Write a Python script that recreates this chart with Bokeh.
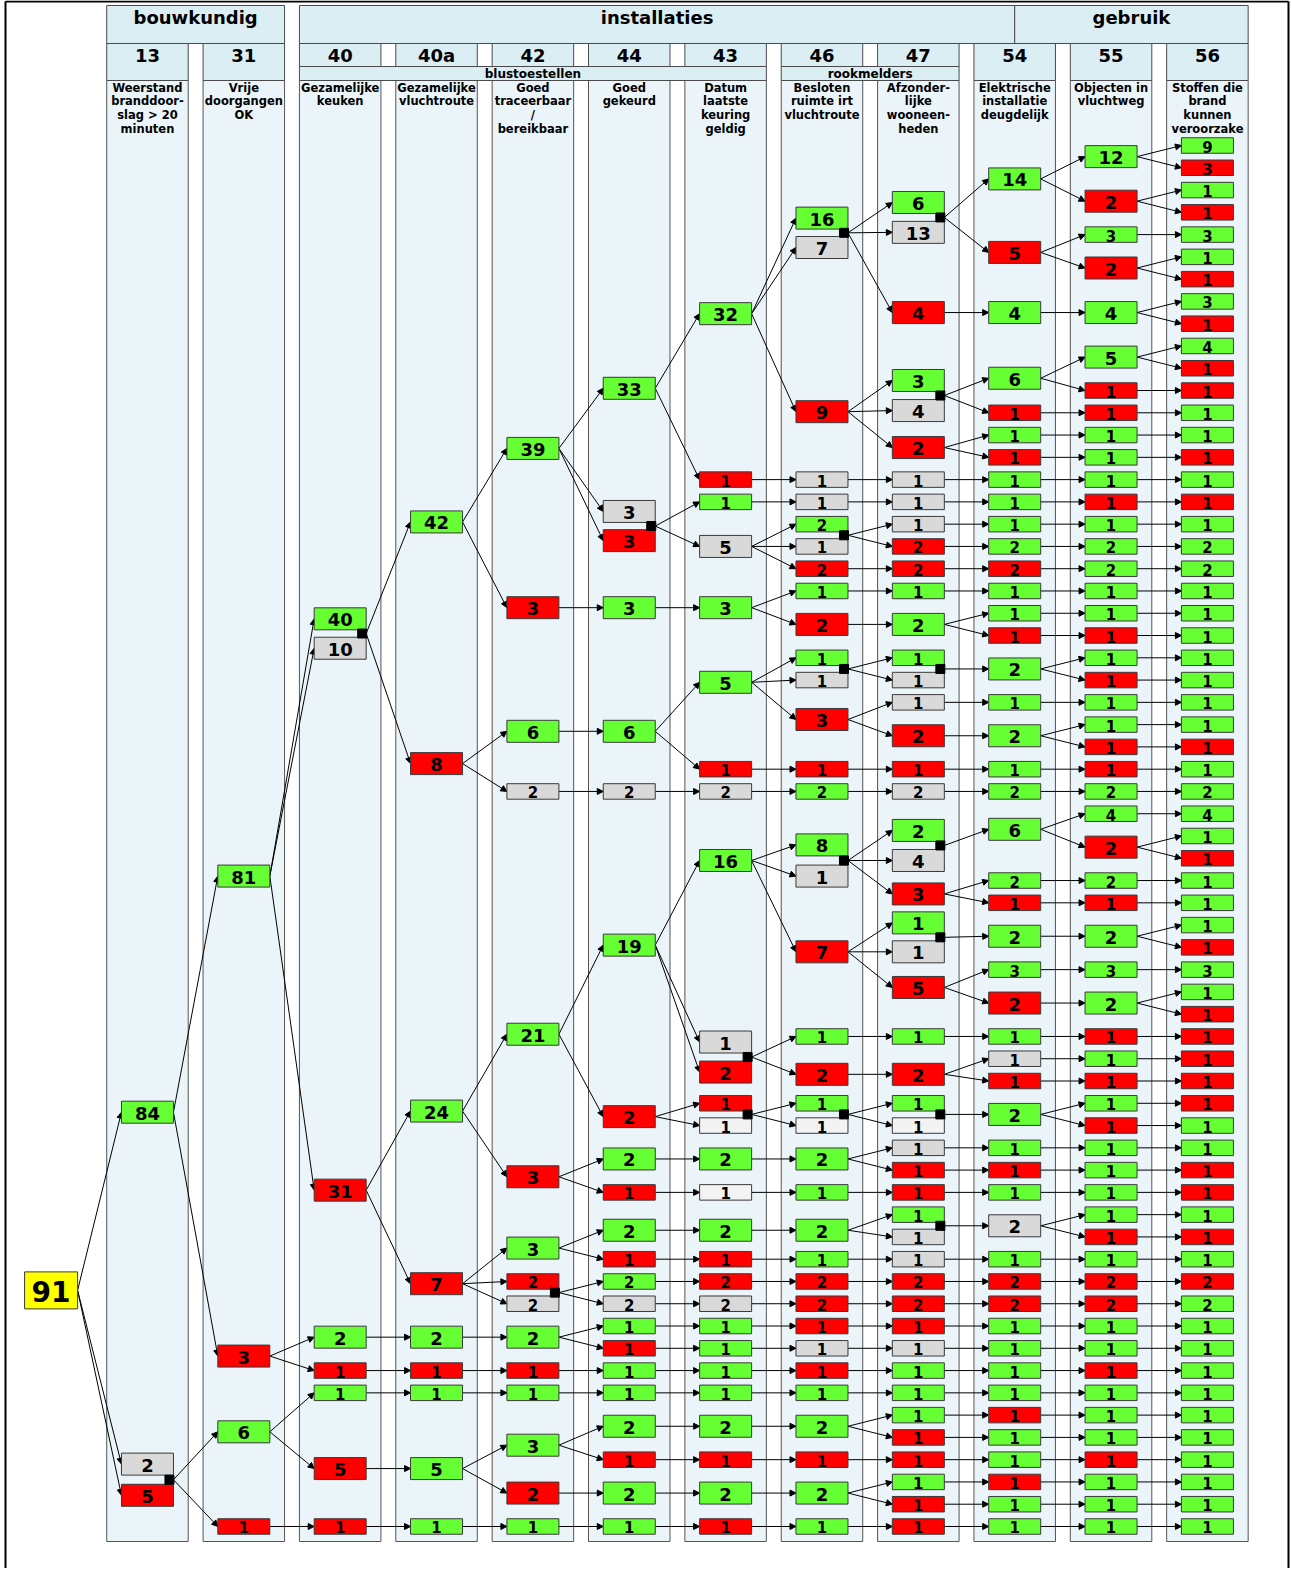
from bokeh.plotting import figure
from bokeh.models import Range1d, ColumnDataSource, Arrow, NormalHead
from bokeh.core.properties import value
from bokeh.embed import file_html
from bokeh.resources import INLINE

# ------------------------------------------------------------------ data
codes = ["", "13", "31", "40", "40a", "42", "44", "43", "46", "47", "54", "55", "56"]
descriptions = [
    [],
    ["Weerstand", "branddoor-", "slag > 20", "minuten"],
    ["Vrije", "doorgangen", "OK"],
    ["Gezamelijke", "keuken"],
    ["Gezamelijke", "vluchtroute"],
    ["Goed", "traceerbaar", "/", "bereikbaar"],
    ["Goed", "gekeurd"],
    ["Datum", "laatste", "keuring", "geldig"],
    ["Besloten", "ruimte irt", "vluchtroute"],
    ["Afzonder-", "lijke", "wooneen-", "heden"],
    ["Elektrische", "installatie", "deugdelijk"],
    ["Objecten in", "vluchtweg"],
    ["Stoffen die", "brand", "kunnen", "veroorzake"],
]
groups = ["bouwkundig", "installaties", "gebruik"]
subgroups = ["blustoestellen", "rookmelders"]

# node data per column: value, colour code (g=ja, r=nee, x=onbekend, w=n.v.t., y=totaal),
# row in the tree (leaf rows 0..62), parent index in previous column, stacked pairs (top index)
root_val = [91]
root_col = ["y"]
root_row = [51.4]

n13_val = [84, 2, 5]
n13_col = ["g", "x", "r"]
n13_row = [43.4, 59.2, 60.6]
n13_par = [0, 0, 0]
n13_pair = [1]

n31_val = [81, 3, 6, 1]
n31_col = ["g", "r", "g", "r"]
n31_row = [32.8, 54.35, 57.75, 62]
n31_par = [0, 0, 1, 1]
n31_pair = []

n40_val = [40, 10, 31, 2, 1, 1, 5, 1]
n40_col = ["g", "x", "r", "g", "r", "g", "r", "r"]
n40_row = [21.25, 22.57, 46.9, 53.5, 55, 56, 59.4, 62]
n40_par = [0, 0, 0, 1, 1, 2, 2, 3]
n40_pair = [0]

n40a_val = [42, 8, 24, 7, 2, 1, 1, 5, 1]
n40a_col = ["g", "r", "g", "r", "g", "r", "g", "g", "g"]
n40a_row = [16.9, 27.75, 43.35, 51.1, 53.5, 55, 56, 59.4, 62]
n40a_par = [0, 0, 2, 2, 3, 4, 5, 6, 7]
n40a_pair = []

n42_val = [39, 3, 6, 2, 21, 3, 3, 2, 2, 2, 1, 1, 3, 2, 1]
n42_col = ["g", "r", "g", "x", "g", "r", "g", "r", "x", "g", "r", "g", "g", "r", "g"]
n42_row = [13.6, 20.75, 26.3, 29, 39.9, 46.3, 49.5, 51, 52, 53.5, 55, 56, 58.35, 60.5, 62]
n42_par = [0, 0, 1, 1, 2, 2, 3, 3, 3, 4, 5, 6, 7, 7, 8]
n42_pair = [7]

n44_val = [33, 3, 3, 3, 6, 2, 19, 2, 2, 1, 2, 1, 2, 2, 1, 1, 1, 1, 2, 1, 2, 1]
n44_col = ["g", "x", "r", "g", "g", "x", "g", "r", "g", "r", "g", "r", "g", "x", "g", "r",
           "g", "g", "g", "r", "g", "g"]
n44_row = [10.9, 16.43, 17.74, 20.75, 26.3, 29, 35.9, 43.6, 45.5, 47, 48.7, 50, 51, 52, 53, 54,
           55, 56, 57.5, 59, 60.5, 62]
n44_par = [0, 0, 0, 1, 2, 3, 4, 4, 5, 5, 6, 6, 7, 7, 9, 9, 10, 11, 12, 12, 13, 14]
n44_pair = [1]

n43_val = [32, 1, 1, 5, 3, 5, 1, 2, 16, 1, 2, 1, 1, 2, 1, 2, 1, 2, 2, 1, 1, 1, 1, 2, 1, 2, 1]
n43_col = ["g", "r", "g", "x", "g", "g", "r", "x", "g", "x", "r", "r", "w", "g", "w", "g",
           "r", "r", "x", "g", "g", "g", "g", "g", "r", "g", "r"]
n43_row = [7.55, 15, 16, 18, 20.75, 24.1, 28, 29, 32.1, 40.25, 41.6, 43, 44, 45.5, 47, 48.7,
           50, 51, 52, 53, 54, 55, 56, 57.5, 59, 60.5, 62]
n43_par = [0, 0, 1, 1, 3, 4, 4, 5, 6, 6, 6, 7, 7, 8, 9, 10, 11, 12, 13, 14, 15, 16, 17, 18,
           19, 20, 21]
n43_pair = [9, 11]

n46_val = [16, 7, 9, 1, 1, 2, 1, 2, 1, 2, 1, 1, 3, 1, 2, 8, 1, 7, 1, 2, 1, 1, 2, 1, 2, 1, 2,
           2, 1, 1, 1, 1, 2, 1, 2, 1]
n46_col = ["g", "x", "r", "x", "x", "g", "x", "r", "g", "r", "g", "x", "r", "r", "g", "g",
           "x", "r", "g", "r", "g", "w", "g", "g", "g", "g", "r", "r", "r", "x", "r", "g",
           "g", "r", "g", "g"]
n46_row = [3.26, 4.58, 11.95, 15, 16, 17, 18, 19, 20, 21.5, 23, 24, 25.77, 28, 29, 31.4, 32.8,
           36.2, 40, 41.7, 43, 44, 45.5, 47, 48.7, 50, 51, 52, 53, 54, 55, 56, 57.5, 59, 60.5, 62]
n46_par = [0, 0, 0, 1, 2, 3, 3, 3, 4, 4, 5, 5, 5, 6, 7, 8, 8, 8, 9, 9, 11, 11, 13, 14, 15, 16,
           17, 18, 19, 20, 21, 22, 23, 24, 25, 26]
n46_pair = [0, 5, 10, 15, 20]

n47_val = [6, 13, 4, 3, 4, 2, 1, 1, 1, 2, 2, 1, 2, 1, 1, 1, 2, 1, 2, 2, 4, 3, 1, 1, 5, 1, 2,
           1, 1, 1, 1, 1, 1, 1, 1, 2, 2, 1, 1, 1, 1, 1, 1, 1, 1, 1, 1]
n47_col = ["g", "x", "r", "g", "x", "r", "x", "x", "x", "r", "r", "g", "g", "g", "x", "x",
           "r", "r", "x", "g", "x", "r", "g", "x", "r", "g", "r", "g", "w", "x", "r", "r",
           "g", "x", "x", "r", "r", "r", "x", "g", "g", "g", "r", "r", "g", "r", "r"]
n47_row = [2.56, 3.9, 7.5, 10.55, 11.9, 13.56, 15, 16, 17, 18, 19, 20, 21.5, 23, 24, 25, 26.5,
           28, 29, 30.75, 32.1, 33.6, 34.9, 36.2, 37.8, 40, 41.7, 43, 44, 45, 46, 47, 48, 49,
           50, 51, 52, 53, 54, 55, 56, 57, 58, 59, 60, 61, 62]
n47_par = [0, 0, 0, 2, 2, 2, 3, 4, 5, 5, 7, 8, 9, 10, 10, 12, 12, 13, 14, 15, 15, 15, 17, 17,
           17, 18, 19, 20, 20, 22, 22, 23, 24, 24, 25, 26, 27, 28, 29, 30, 31, 32, 32, 33, 34,
           34, 35]
n47_pair = [0, 3, 13, 19, 22, 27, 32]

n54_val = [14, 5, 4, 6, 1, 1, 1, 1, 1, 1, 2, 2, 1, 1, 1, 2, 1, 2, 1, 2, 6, 2, 1, 2, 3, 2, 1,
           1, 1, 2, 1, 1, 1, 2, 1, 2, 2, 1, 1, 1, 1, 1, 1, 1, 1, 1, 1]
n54_col = ["g", "r", "g", "g", "r", "g", "r", "g", "g", "g", "g", "r", "g", "g", "r", "g",
           "g", "g", "g", "g", "g", "g", "r", "g", "g", "r", "g", "x", "r", "g", "g", "r",
           "g", "x", "g", "r", "r", "g", "g", "g", "g", "r", "g", "g", "r", "g", "g"]
n54_row = [1.5, 4.8, 7.5, 10.45, 12, 13, 14, 15, 16, 17, 18, 19, 20, 21, 22, 23.5, 25, 26.5,
           28, 29, 30.7, 33, 34, 35.5, 37, 38.5, 40, 41, 42, 43.5, 45, 46, 47, 48.5, 50, 51,
           52, 53, 54, 55, 56, 57, 58, 59, 60, 61, 62]
n54_par = [0, 0, 2, 3, 3, 5, 5, 6, 7, 8, 9, 10, 11, 12, 12, 13, 15, 16, 17, 18, 19, 21, 21,
           22, 24, 24, 25, 26, 26, 27, 29, 30, 31, 32, 34, 35, 36, 37, 38, 39, 40, 41, 42, 43,
           44, 45, 46]
n54_pair = []

n55_val = [12, 2, 3, 2, 4, 5, 1, 1, 1, 1, 1, 1, 1, 2, 2, 1, 1, 1, 1, 1, 1, 1, 1, 1, 2, 4, 2,
           2, 1, 2, 3, 2, 1, 1, 1, 1, 1, 1, 1, 1, 1, 1, 1, 2, 2, 1, 1, 1, 1, 1, 1, 1, 1, 1, 1]
n55_col = ["g", "r", "g", "r", "g", "g", "r", "r", "g", "g", "g", "r", "g", "g", "g", "g",
           "g", "r", "g", "r", "g", "g", "r", "r", "g", "g", "r", "g", "r", "g", "g", "g",
           "r", "g", "r", "g", "r", "g", "g", "g", "g", "r", "g", "r", "r", "g", "g", "r",
           "g", "g", "g", "r", "g", "g", "g"]
n55_row = [0.5, 2.5, 4, 5.5, 7.5, 9.5, 11, 12, 13, 14, 15, 16, 17, 18, 19, 20, 21, 22, 23, 24,
           25, 26, 27, 28, 29, 30, 31.5, 33, 34, 35.5, 37, 38.5, 40, 41, 42, 43, 44, 45, 46,
           47, 48, 49, 50, 51, 52, 53, 54, 55, 56, 57, 58, 59, 60, 61, 62]
n55_par = [0, 0, 1, 1, 2, 3, 3, 4, 5, 6, 7, 8, 9, 10, 11, 12, 13, 14, 15, 15, 16, 17, 17, 18,
           19, 20, 20, 21, 22, 23, 24, 25, 26, 27, 28, 29, 29, 30, 31, 32, 33, 33, 34, 35, 36,
           37, 38, 39, 40, 41, 42, 43, 44, 45, 46]
n55_pair = []

n56_val = [9, 3, 1, 1, 3, 1, 1, 3, 1, 4, 1, 1, 1, 1, 1, 1, 1, 1, 2, 2, 1, 1, 1, 1, 1, 1, 1, 1,
           1, 2, 4, 1, 1, 1, 1, 1, 1, 3, 1, 1, 1, 1, 1, 1, 1, 1, 1, 1, 1, 1, 1, 2, 2, 1, 1, 1,
           1, 1, 1, 1, 1, 1, 1]
n56_col = ["g", "r", "g", "r", "g", "g", "r", "g", "r", "g", "r", "r", "g", "g", "r", "g",
           "r", "g", "g", "g", "g", "g", "g", "g", "g", "g", "g", "r", "g", "g", "g", "g",
           "r", "g", "g", "g", "r", "g", "g", "r", "r", "r", "r", "r", "g", "g", "r", "r",
           "g", "r", "g", "r", "g", "g", "g", "g", "g", "g", "g", "g", "g", "g", "g"]
n56_row = [0, 1, 2, 3, 4, 5, 6, 7, 8, 9, 10, 11, 12, 13, 14, 15, 16, 17, 18, 19, 20, 21, 22,
           23, 24, 25, 26, 27, 28, 29, 30, 31, 32, 33, 34, 35, 36, 37, 38, 39, 40, 41, 42, 43,
           44, 45, 46, 47, 48, 49, 50, 51, 52, 53, 54, 55, 56, 57, 58, 59, 60, 61, 62]
n56_par = [0, 0, 1, 1, 2, 3, 3, 4, 4, 5, 5, 6, 7, 8, 9, 10, 11, 12, 13, 14, 15, 16, 17, 18,
           19, 20, 21, 22, 23, 24, 25, 26, 26, 27, 28, 29, 29, 30, 31, 31, 32, 33, 34, 35, 36,
           37, 38, 39, 40, 41, 42, 43, 44, 45, 46, 47, 48, 49, 50, 51, 52, 53, 54]
n56_pair = []

tree = [
    (root_val, root_col, root_row, [], []),
    (n13_val, n13_col, n13_row, n13_par, n13_pair),
    (n31_val, n31_col, n31_row, n31_par, n31_pair),
    (n40_val, n40_col, n40_row, n40_par, n40_pair),
    (n40a_val, n40a_col, n40a_row, n40a_par, n40a_pair),
    (n42_val, n42_col, n42_row, n42_par, n42_pair),
    (n44_val, n44_col, n44_row, n44_par, n44_pair),
    (n43_val, n43_col, n43_row, n43_par, n43_pair),
    (n46_val, n46_col, n46_row, n46_par, n46_pair),
    (n47_val, n47_col, n47_row, n47_par, n47_pair),
    (n54_val, n54_col, n54_row, n54_par, n54_pair),
    (n55_val, n55_col, n55_row, n55_par, n55_pair),
    (n56_val, n56_col, n56_row, n56_par, n56_pair),
]

# ------------------------------------------------------------------ style / layout
COLORS = {"g": "#66ff33", "r": "#ff0000", "x": "#d9d9d9", "w": "#f3f3f3", "y": "#ffff00"}
FONT = value("DejaVu Sans")
PX_COL, COL0 = 96.36, 50.6      # pixels per column step, page x of column 0
PX_ROW, ROW0 = 22.274, 145.0     # pixels per leaf row, page y of row 0
ORIG = 0                         # page offset of the plot frame
W, H = 1290, 1568


def fx(px):
    return (px - COL0) / PX_COL


def fy(py):
    return (py - ROW0) / PX_ROW


def dx(px):
    return px / PX_COL


def dy(py):
    return py / PX_ROW


p = figure(width=W, height=H, x_range=Range1d(fx(ORIG), fx(ORIG + W)),
           y_range=Range1d(fy(ORIG + H), fy(ORIG)), x_axis_type=None, y_axis_type=None,
           toolbar_location=None, output_backend="svg", min_border=0)
p.grid.visible = False
p.outline_line_color = None
p.background_fill_color = "white"

HP = dx(40.75)          # half panel width
cols_idx = list(range(1, 13))

# column panels
panel = p.quad(left=[j - HP for j in cols_idx], right=[j + HP for j in cols_idx],
               top=fy(80), bottom=fy(1541), fill_color="#eaf4f9",
               line_color="#555555", line_width=1)
panel.level = "image"

# group header row
g_left = [1 - HP, 3 - HP, 10]
g_right = [2 + HP, 10, 12 + HP]
p.quad(left=g_left, right=g_right, top=fy(5), bottom=fy(43),
       fill_color="#dbeef3", line_color="#4a4a4a", line_width=1)
p.text(x=[(a + b) / 2 for a, b in zip(g_left, g_right)], y=[fy(17)] * 3, text=groups,
       text_font=FONT, text_font_style="bold", text_font_size="18px",
       text_align="center", text_baseline="middle", text_color="black")

# column number boxes
num_bottom = [fy(66) if 3 <= j <= 9 else fy(80) for j in cols_idx]
p.quad(left=[j - HP for j in cols_idx], right=[j + HP for j in cols_idx],
       top=fy(43), bottom=num_bottom, fill_color="#dbeef3", line_color="#4a4a4a", line_width=1)
p.text(x=cols_idx, y=[fy(54.5)] * 12, text=codes[1:], text_font=FONT,
       text_font_style="bold", text_font_size="18px", text_align="center",
       text_baseline="middle", text_color="black")

# subgroup boxes
s_left = [3 - HP, 8 - HP]
s_right = [7 + HP, 9 + HP]
p.quad(left=s_left, right=s_right, top=fy(66), bottom=fy(80), fill_color="#dbeef3",
       line_color="#4a4a4a", line_width=1)
p.text(x=[(a + b) / 2 for a, b in zip(s_left, s_right)], y=[fy(73.5)] * 2, text=subgroups,
       text_font=FONT, text_font_style="bold", text_font_size="12px",
       text_align="center", text_baseline="middle", text_color="black")

# descriptions
dxs, dys, dts = [], [], []
for j in cols_idx:
    for k, line in enumerate(descriptions[j]):
        dxs.append(j)
        dys.append(fy(87 + 13.7 * k))
        dts.append(line)
p.text(x=dxs, y=dys, text=dts, text_font=FONT, text_font_style="bold",
       text_font_size="11.5px", text_align="center", text_baseline="middle",
       text_color="black")

# ------------------------------------------------------------------ nodes
HW = dx(26)
ROOT_HW = dx(26.5)


def in_pair(pairs, i):
    return i in pairs or (i - 1) in pairs


def is_big(c, i):
    vals, colr, rows, par, pairs = tree[c]
    r = rows[i]
    if abs(r - round(r)) > 0.04:
        return True
    nchild = tree[c + 1][3].count(i) if c + 1 < len(tree) else 0
    return (not in_pair(pairs, i)) and nchild > 1


bx, by, bw, bh, bc, bt, bfs = [], [], [], [], [], [], []
for c, (vals, colr, rows, par, pairs) in enumerate(tree):
    for i, v in enumerate(vals):
        bx.append(c)
        by.append(rows[i])
        bc.append(COLORS[colr[i]])
        bt.append(str(v))
        if c == 0:
            bw.append(2 * ROOT_HW)
            bh.append(dy(37))
            bfs.append("28px")
        elif is_big(c, i):
            bw.append(2 * HW)
            bh.append(dy(22))
            bfs.append("18px")
        else:
            bw.append(2 * HW)
            bh.append(dy(15.5))
            bfs.append("15px")

boxes = ColumnDataSource(dict(x=bx, y=by, w=bw, h=bh, c=bc, t=bt, fs=bfs))
p.rect(x="x", y="y", width="w", height="h", fill_color="c", line_color="#3a3a3a",
       line_width=1, source=boxes)
p.text(x="x", y="y", text="t", text_font_size="fs", text_font=FONT, text_font_style="bold",
       text_align="center", text_baseline="middle", text_color="black", y_offset=1,
       source=boxes)

# pair junction squares
sqx, sqy = [], []
for c, (vals, colr, rows, par, pairs) in enumerate(tree):
    for t in pairs:
        sqx.append(c + HW - dx(4))
        sqy.append((rows[t] + rows[t + 1]) / 2)
p.scatter(x=sqx, y=sqy, marker="square", size=9, fill_color="black", line_color="black")

# ------------------------------------------------------------------ edges
x0, y0, x1, y1 = [], [], [], []
for c in range(1, len(tree)):
    pvals, pcol, prows, ppar, ppairs = tree[c - 1]
    vals, colr, rows, par, pairs = tree[c]
    phw = ROOT_HW if c == 1 else HW
    for i, q in enumerate(par):
        if q in ppairs:
            ys = (prows[q] + prows[q + 1]) / 2
        else:
            ys = prows[q]
        x0.append(c - 1 + phw)
        y0.append(ys)
        x1.append(c - HW)
        y1.append(rows[i])

edges = ColumnDataSource(dict(x0=x0, y0=y0, x1=x1, y1=y1))
arrows = Arrow(end=NormalHead(size=6, fill_color="black", line_color="black", line_width=1),
               x_start="x0", y_start="y0", x_end="x1", y_end="y1", source=edges,
               line_color="black", line_width=1, level="underlay")
p.add_layout(arrows)

# outer frame
p.segment(x0=[fx(5), fx(5), fx(1288)], y0=[fy(1), fy(1), fy(1)],
          x1=[fx(5), fx(1288), fx(1288)], y1=[fy(ORIG + H), fy(1), fy(ORIG + H)],
          line_color="black", line_width=2)

open("out.html", "w").write(file_html(p, INLINE))
